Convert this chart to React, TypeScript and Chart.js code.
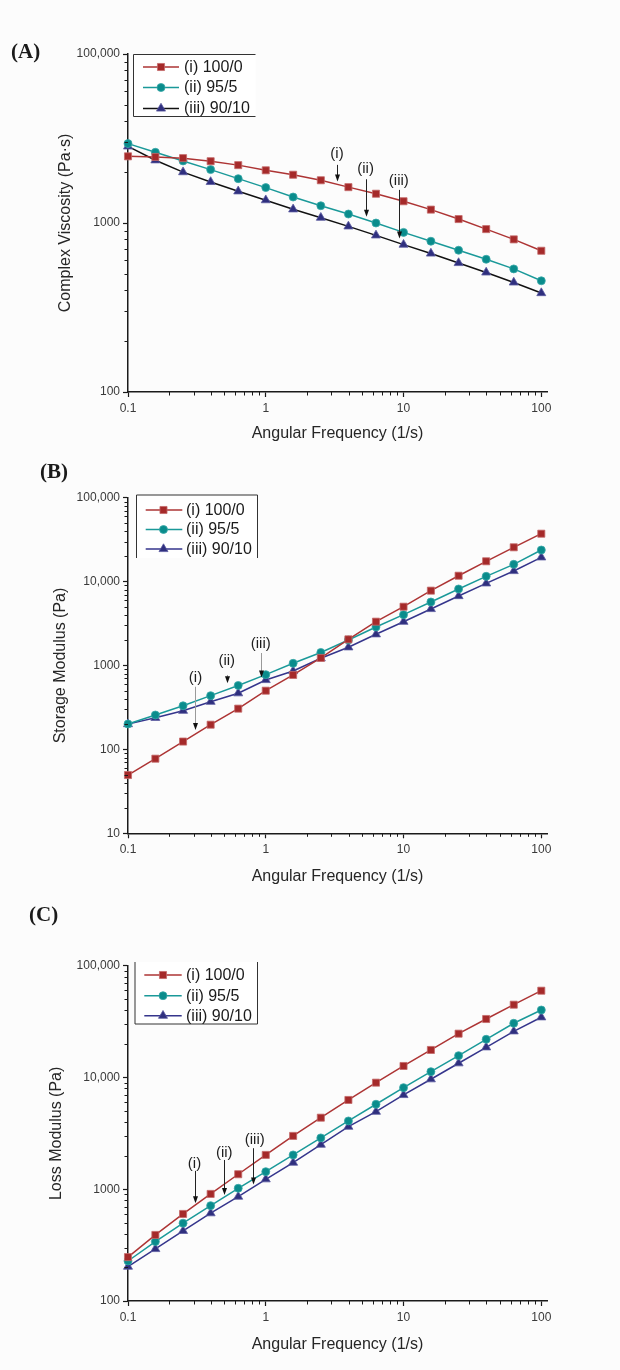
import React, { useEffect, useRef } from 'react';
import { Chart, registerables } from 'chart.js';
import { drawPoint } from 'chart.js/helpers';

Chart.register(...registerables);

// ---------------- data ----------------
const frequency = [0.1, 0.158, 0.251, 0.398, 0.631, 1, 1.58, 2.51, 3.98, 6.31, 10, 15.8, 25.1, 39.8, 63.1, 100];

const seriesNames = ['(i) 100/0', '(ii) 95/5', '(iii) 90/10'];

const viscosity100 = [2480, 2460, 2420, 2320, 2200, 2050, 1930, 1790, 1630, 1490, 1345, 1200, 1055, 920, 800, 685];
const viscosity95 = [2950, 2620, 2330, 2070, 1830, 1620, 1425, 1265, 1130, 1000, 880, 780, 690, 610, 535, 455];
const viscosity90 = [2840, 2350, 2000, 1750, 1540, 1365, 1205, 1075, 955, 845, 745, 660, 580, 510, 445, 385];

const storage100 = [49.5, 77.5, 124, 197, 306, 501, 771, 1230, 2050, 3330, 5020, 7800, 11750, 17460, 25630, 37230];
const storage95 = [201, 257, 331, 437, 578, 778, 1062, 1430, 2014, 2877, 4036, 5715, 8166, 11560, 16070, 23800];
const storage90 = [200, 238, 289, 370, 467, 672, 860, 1219, 1648, 2355, 3327, 4714, 6730, 9530, 13370, 19460];

const loss100 = [247, 390, 601, 908, 1362, 2028, 3000, 4367, 6290, 8985, 12670, 17620, 24650, 33350, 44780, 59750];
const loss95 = [228, 340, 497, 713, 1020, 1436, 2028, 2880, 4083, 5758, 8110, 11270, 15670, 21960, 30540, 40140];
const loss90 = [203, 292, 424, 610, 859, 1228, 1730, 2506, 3630, 4943, 6973, 9640, 13400, 18620, 25880, 34550];

const xTickValues = [0.1, 1, 10, 100];
const xTickLabels = ['0.1', '1', '10', '100'];

const yTicksA = [100, 1000, 10000];
const yLabelsA = ['100', '1000', '100,000'];
const yTicksB = [10, 100, 1000, 10000, 100000];
const yLabelsB = ['10', '100', '1000', '10,000', '100,000'];
const yTicksC = [100, 1000, 10000, 100000];
const yLabelsC = ['100', '1000', '10,000', '100,000'];

// annotation: label, x (frequency), text y, arrow from y, arrow tip y (data units)
const annotationsA = [
  { text: '(i)', x: 3.29, ty: 2553, from: 2208, to: 1758, tx: 3.29 },
  { text: '(ii)', x: 5.3, ty: 2080, from: 1815, to: 1089, tx: 5.3 },
  { text: '(iii)', x: 9.25, ty: 1774, from: 1570, to: 811, tx: 9.25 },
];
const annotationsB = [
  { text: '(i)', x: 0.309, ty: 703, from: 558, to: 170, tx: 0.309 },
  { text: '(ii)', x: 0.521, ty: 1132, from: 771, to: 614, tx: 0.521 },
  { text: '(iii)', x: 0.92, ty: 1790, from: 1409, to: 719, tx: 0.92 },
];
const annotationsC = [
  { text: '(i)', x: 0.304, ty: 1683, from: 1459, to: 750, tx: 0.304 },
  { text: '(ii)', x: 0.4995, ty: 2113, from: 1828, to: 889, tx: 0.4995 },
  { text: '(iii)', x: 0.805, ty: 2763, from: 2329, to: 1104, tx: 0.832 },
];

// ---------------- styles ----------------
const FONT = '"Liberation Sans", Arial, sans-serif';
const RED = '#a52a2a';
const RED_LINE = '#ad3434';
const TEAL = '#0a8c8c';
const TEAL_LINE = '#1a9999';
const NAVY = '#2f2f7e';
const NAVY_LINE = '#35358c';

type Legend = { l: number; t: number; r: number; b: number; sides: string[]; rows: number[]; x1: number; x2: number; mx: number; tx: number };

const panels = [
  {
    key: 'A', top: 0, height: 460, yMin: 100, yMax: 10000, yTicks: yTicksA, yLabels: yLabelsA,
    yTitle: 'Complex Viscosity (Pa·s)', series: [viscosity100, viscosity95, viscosity90],
    thirdLine: '#111111', padTop: 54, padBottom: 8, xTitlePad: 9, yTitlePad: 16,
    annotations: annotationsA, arrowLine: '#222222',
    legend: { l: 133.5, t: 54.5, r: 255.5, b: 116.5, sides: ['top', 'left', 'bottom'], rows: [67, 87.5, 108.5], x1: 143, x2: 179, mx: 161, tx: 184 } as Legend,
    letter: '(A)', letterX: 11, letterY: 41,
  },
  {
    key: 'B', top: 460, height: 460, yMin: 10, yMax: 100000, yTicks: yTicksB, yLabels: yLabelsB,
    yTitle: 'Storage Modulus (Pa)', series: [storage100, storage95, storage90],
    thirdLine: NAVY_LINE, padTop: 37.7, padBottom: 26.7, xTitlePad: 7, yTitlePad: 11.4,
    annotations: annotationsB, arrowLine: '#9a9a9a',
    legend: { l: 136.5, t: 35, r: 257.5, b: 98, sides: ['top', 'left', 'right'], rows: [50, 69.5, 89], x1: 145.7, x2: 182.3, mx: 163.5, tx: 186 } as Legend,
    letter: '(B)', letterX: 40, letterY: 461,
  },
  {
    key: 'C', top: 920, height: 450, yMin: 100, yMax: 100000, yTicks: yTicksC, yLabels: yLabelsC,
    yTitle: 'Loss Modulus (Pa)', series: [loss100, loss95, loss90],
    thirdLine: NAVY_LINE, padTop: 45.7, padBottom: 9, xTitlePad: 6.4, yTitlePad: 7.4,
    annotations: annotationsC, arrowLine: '#222222',
    legend: { l: 135, t: 42, r: 257.5, b: 104, sides: ['left', 'right', 'bottom'], rows: [55, 75.7, 95.7], x1: 144.3, x2: 181.7, mx: 163, tx: 186 } as Legend,
    letter: '(C)', letterX: 29, letterY: 904,
  },
];

type Panel = typeof panels[number];

function minorValues(min: number, max: number) {
  const out: number[] = [];
  for (let d = Math.floor(Math.log10(min)); d <= Math.ceil(Math.log10(max)); d++) {
    for (let m = 2; m <= 9; m++) {
      const v = m * Math.pow(10, d);
      if (v > min && v < max) out.push(v);
    }
  }
  return out;
}

function makePlugin(p: Panel) {
  return {
    id: 'extras' + p.key,
    afterDraw(chart: any) {
      const ctx = chart.ctx as CanvasRenderingContext2D;
      const xs = chart.scales.x;
      const ys = chart.scales.y;
      const area = chart.chartArea;
      ctx.save();
      // minor ticks
      ctx.strokeStyle = '#1a1a1a';
      ctx.lineWidth = 1;
      ctx.beginPath();
      for (const v of minorValues(0.1, 110)) {
        const px = Math.round(xs.getPixelForValue(v)) + 0.5;
        ctx.moveTo(px, area.bottom);
        ctx.lineTo(px, area.bottom + 3.5);
      }
      for (const v of minorValues(p.yMin, p.yMax)) {
        const py = Math.round(ys.getPixelForValue(v)) + 0.5;
        ctx.moveTo(area.left, py);
        ctx.lineTo(area.left - 3.5, py);
      }
      ctx.stroke();

      // annotations
      ctx.font = `15px ${FONT}`;
      ctx.textAlign = 'center';
      ctx.textBaseline = 'middle';
      for (const a of p.annotations) {
        const tx = xs.getPixelForValue(a.tx);
        const ax = Math.round(xs.getPixelForValue(a.x)) + 0.5;
        const ty = ys.getPixelForValue(a.ty);
        const y1 = ys.getPixelForValue(a.from);
        const y2 = ys.getPixelForValue(a.to);
        ctx.fillStyle = '#1e1e1e';
        ctx.fillText(a.text, tx, ty);
        ctx.strokeStyle = p.arrowLine;
        ctx.lineWidth = 1;
        ctx.beginPath();
        ctx.moveTo(ax, y1);
        ctx.lineTo(ax, y2 - 5);
        ctx.stroke();
        ctx.fillStyle = '#111111';
        ctx.beginPath();
        ctx.moveTo(ax, y2);
        ctx.lineTo(ax - 2.5, y2 - 7);
        ctx.lineTo(ax + 2.5, y2 - 7);
        ctx.closePath();
        ctx.fill();
      }

      // legend
      const lg = p.legend;
      ctx.fillStyle = '#ffffff';
      ctx.fillRect(lg.l, lg.t, lg.r - lg.l, lg.b - lg.t);
      ctx.strokeStyle = '#333333';
      ctx.lineWidth = 1;
      ctx.beginPath();
      if (lg.sides.includes('top')) { ctx.moveTo(lg.l, lg.t); ctx.lineTo(lg.r, lg.t); }
      if (lg.sides.includes('bottom')) { ctx.moveTo(lg.l, lg.b); ctx.lineTo(lg.r, lg.b); }
      if (lg.sides.includes('left')) { ctx.moveTo(lg.l, lg.t); ctx.lineTo(lg.l, lg.b); }
      if (lg.sides.includes('right')) { ctx.moveTo(lg.r, lg.t); ctx.lineTo(lg.r, lg.b); }
      ctx.stroke();
      chart.data.datasets.forEach((ds: any, i: number) => {
        const y = lg.rows[i];
        ctx.strokeStyle = ds.borderColor;
        ctx.lineWidth = 1.5;
        ctx.beginPath();
        ctx.moveTo(lg.x1, y);
        ctx.lineTo(lg.x2, y);
        ctx.stroke();
        ctx.fillStyle = ds.pointBackgroundColor;
        ctx.strokeStyle = ds.pointBorderColor;
        ctx.lineWidth = ds.pointBorderWidth;
        drawPoint(ctx, { pointStyle: ds.pointStyle, radius: ds.pointRadius, rotation: 0, borderWidth: ds.pointBorderWidth }, lg.mx, y);
        ctx.fillStyle = '#1a1a1a';
        ctx.font = `16px ${FONT}`;
        ctx.textAlign = 'left';
        ctx.textBaseline = 'middle';
        ctx.fillText(ds.label, lg.tx, y + 0.5);
      });
      ctx.restore();
    },
  };
}

function PanelChart({ p }: { p: Panel }) {
  const ref = useRef<HTMLCanvasElement | null>(null);
  useEffect(() => {
    if (!ref.current) return;
    const colors = [
      { line: RED_LINE, fill: RED, border: '#c46a6a', style: 'rect', r: 5 },
      { line: TEAL_LINE, fill: TEAL, border: '#3aa8a8', style: 'circle', r: 4 },
      { line: p.thirdLine, fill: NAVY, border: '#5a5aa0', style: 'triangle', r: 5.2 },
    ];
    const datasets = p.series.map((vals, i) => ({
      label: seriesNames[i],
      data: frequency.map((f, j) => ({ x: f, y: vals[j] })),
      borderColor: colors[i].line,
      backgroundColor: colors[i].fill,
      borderWidth: 1.5,
      pointStyle: colors[i].style,
      pointRadius: colors[i].r,
      pointBackgroundColor: colors[i].fill,
      pointBorderColor: colors[i].border,
      pointBorderWidth: 0.8,
      tension: 0,
      clip: false as const,
    }));
    const chart = new Chart(ref.current, {
      type: 'line',
      data: { datasets },
      options: {
        animation: false,
        responsive: false,
        devicePixelRatio: 1,
        events: [],
        layout: { padding: { left: 40, right: 73, top: p.padTop, bottom: p.padBottom } },
        plugins: { legend: { display: false }, tooltip: { enabled: false } },
        scales: {
          x: {
            type: 'logarithmic',
            min: 0.1,
            max: 110,
            afterBuildTicks: (s: any) => { s.ticks = xTickValues.map((v) => ({ value: v })); },
            afterFit: (s: any) => { s.height = 60; },
            ticks: {
              autoSkip: false,
              maxRotation: 0,
              padding: 4,
              color: '#3a3a3a',
              font: { family: FONT, size: 12 },
              callback: (v: any) => { const i = xTickValues.indexOf(Number(v)); return i >= 0 ? xTickLabels[i] : ''; },
            },
            grid: { drawOnChartArea: false, drawTicks: true, tickLength: 5, tickColor: '#1a1a1a', tickWidth: 1.2 },
            border: { display: true, color: '#1a1a1a', width: 1.5 },
            title: { display: true, text: 'Angular Frequency (1/s)', color: '#262626', font: { family: FONT, size: 16 }, padding: { top: 0, bottom: p.xTitlePad } },
          },
          y: {
            type: 'logarithmic',
            min: p.yMin,
            max: p.yMax,
            afterBuildTicks: (s: any) => { s.ticks = p.yTicks.map((v) => ({ value: v })); },
            afterFit: (s: any) => { s.width = 88; },
            ticks: {
              autoSkip: false,
              padding: 3,
              color: '#3a3a3a',
              font: { family: FONT, size: 12 },
              callback: (v: any) => { const i = p.yTicks.indexOf(Number(v)); return i >= 0 ? p.yLabels[i] : ''; },
            },
            grid: { drawOnChartArea: false, drawTicks: true, tickLength: 5, tickColor: '#1a1a1a', tickWidth: 1.2 },
            border: { display: true, color: '#1a1a1a', width: 1.5 },
            title: { display: true, text: p.yTitle, color: '#262626', font: { family: FONT, size: 16 }, padding: { top: p.yTitlePad, bottom: 0 } },
          },
        },
      },
      plugins: [makePlugin(p)],
    } as any);
    return () => chart.destroy();
  }, [p]);
  return (
    <div style={{ position: 'absolute', left: 0, top: p.top, width: 620, height: p.height }}>
      <canvas ref={ref} width={620} height={p.height} style={{ display: 'block', width: 620, height: p.height }} />
    </div>
  );
}

export default function App() {
  return (
    <div style={{ position: 'absolute', left: 0, top: 0, width: 620, height: 1370, background: '#fcfcfc', overflow: 'hidden' }}>
      {panels.map((p) => (
        <PanelChart key={p.key} p={p} />
      ))}
      {panels.map((p) => (
        <div
          key={'l' + p.key}
          style={{ position: 'absolute', left: p.letterX, top: p.letterY, fontFamily: '"Liberation Serif", "Times New Roman", serif', fontWeight: 'bold', fontSize: 21, lineHeight: '21px', color: '#1a1a1a' }}
        >
          {p.letter}
        </div>
      ))}
    </div>
  );
}
